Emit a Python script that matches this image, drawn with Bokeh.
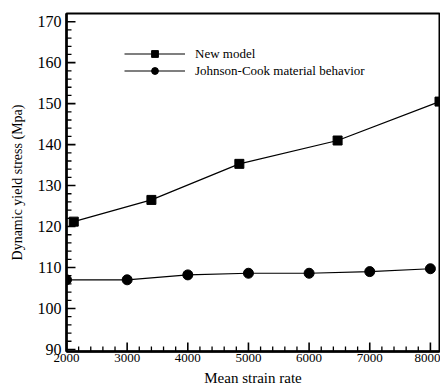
import math
from bokeh.plotting import figure
from bokeh.models import Range1d, Legend, LegendItem, SingleIntervalTicker, LinearAxis
from bokeh.embed import file_html
from bokeh.resources import INLINE

new_x = [2120, 3400, 4850, 6470, 8150]
new_y = [121.2, 126.5, 135.3, 141.0, 150.5]
jc_x = [2000, 3000, 4000, 5000, 6000, 7000, 8000]
jc_y = [107.0, 107.0, 108.2, 108.6, 108.6, 109.0, 109.7]

x_major = [2000, 3000, 4000, 5000, 6000, 7000, 8000]
x_minor = [v for v in range(2200, 8150, 200) if v % 1000]
y_major = [90, 100, 110, 120, 130, 140, 150, 160, 170]
y_minor = [v for v in range(92, 172, 2) if v % 10]

FONT = "Liberation Serif"
X0, X1, Y0, Y1 = 2000, 8150, 89.5, 172

p = figure(width=440, height=390, output_backend="svg", toolbar_location=None,
           x_range=Range1d(X0, X1), y_range=Range1d(Y0, Y1),
           min_border_left=66, min_border_right=1, min_border_top=13, min_border_bottom=39,
           x_axis_type=None, y_axis_type=None)
p.grid.visible = False
p.outline_line_color = "black"
p.outline_line_width = 2

xlab = LinearAxis(ticker=SingleIntervalTicker(interval=1000, num_minor_ticks=5))
ylab = LinearAxis(ticker=SingleIntervalTicker(interval=10, num_minor_ticks=5))
for ax in (xlab, ylab):
    ax.axis_line_width = 2.5
    ax.axis_line_color = "black"
    ax.major_tick_out = 0
    ax.major_tick_in = 0
    ax.minor_tick_out = 0
    ax.minor_tick_in = 0
    ax.major_label_text_font = FONT
    ax.axis_label_text_font = FONT
    ax.axis_label_text_font_style = "normal"
    ax.axis_label_text_color = "black"
    ax.major_label_text_color = "black"

xlab.major_label_text_font_size = "13px"
ylab.major_label_text_font_size = "16px"
xlab.axis_label_text_font_size = "15px"
ylab.axis_label_text_font_size = "14px"
xlab.major_label_standoff = 2
ylab.major_label_standoff = 5
xlab.axis_label = "Mean strain rate"
ylab.axis_label = "Dynamic yield stress (Mpa)"
xlab.axis_label_standoff = 5
ylab.axis_label_standoff = 10
p.add_layout(xlab, "below")
p.add_layout(ylab, "left")

# inward ticks drawn as short screen-length rays from the left and bottom frame edges
p.ray([X0] * len(y_major), y_major, length=9, length_units="screen", angle=0,
      line_color="black", line_width=1.6)
p.ray([X0] * len(y_minor), y_minor, length=5, length_units="screen", angle=0,
      line_color="black", line_width=1.3)
p.ray(x_major, [Y0] * len(x_major), length=9, length_units="screen", angle=math.pi / 2,
      line_color="black", line_width=1.6)
p.ray(x_minor, [Y0] * len(x_minor), length=5, length_units="screen", angle=math.pi / 2,
      line_color="black", line_width=1.3)

l1 = p.line(new_x, new_y, line_color="black", line_width=1.2)
s1 = p.scatter(new_x, new_y, marker="square", size=9, fill_color="black", line_color="black")
l2 = p.line(jc_x, jc_y, line_color="black", line_width=1.2)
s2 = p.scatter(jc_x, jc_y, marker="circle", size=10, fill_color="black", line_color="black")

legend = Legend(items=[
    LegendItem(label="New model", renderers=[l1, s1]),
    LegendItem(label="Johnson-Cook material behavior", renderers=[l2, s2]),
], location=(58, 272))
legend.glyph_width = 61
legend.glyph_height = 17
legend.label_height = 16
legend.spacing = 0
legend.padding = 0
legend.margin = 0
legend.label_standoff = 10
legend.label_text_font = FONT
legend.label_text_font_size = "13px"
legend.label_text_color = "black"
legend.background_fill_alpha = 0
legend.border_line_alpha = 0
p.add_layout(legend)

open("out.html", "w").write(file_html(p, INLINE))
